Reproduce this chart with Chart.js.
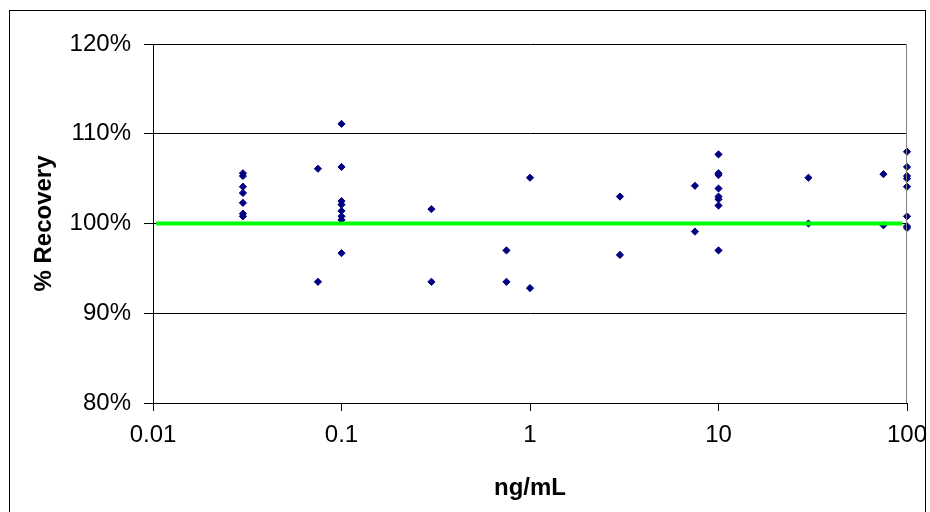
<!DOCTYPE html>
<html>
<head>
<meta charset="utf-8">
<title>% Recovery vs concentration</title>
<script src="https://cdn.jsdelivr.net/npm/chart.js@4/dist/chart.umd.min.js"></script>
<style>
    body { margin: 0; background: #fff; }
    canvas { display: block; }
</style>
</head>
<body>
<canvas id="chart" width="930" height="512"></canvas>
<script>
// Spiked concentrations (ng/mL) and measured recovery (%)
const concentrations = [
    0.03, 0.03, 0.03, 0.03, 0.03, 0.03, 0.03,
    0.075, 0.075,
    0.1, 0.1, 0.1, 0.1, 0.1, 0.1, 0.1, 0.1,
    0.3, 0.3,
    0.75, 0.75,
    1, 1,
    3, 3,
    7.5, 7.5,
    10, 10, 10, 10, 10, 10, 10, 10,
    30, 30,
    75, 75,
    100, 100, 100, 100, 100, 100, 100, 100
];
const recovery = [
    105.6, 105.3, 104.1, 103.4, 102.3, 101.1, 100.8,
    106.1, 93.5,
    111.1, 106.3, 102.5, 102.1, 101.4, 100.8, 100.4, 96.7,
    101.6, 93.5,
    97.0, 93.5,
    105.1, 92.8,
    103.0, 96.5,
    104.2, 99.1,
    107.7, 105.6, 105.4, 103.9, 103.0, 102.7, 102.0, 97.0,
    105.1, 100.0,
    105.5, 99.8,
    108.0, 106.3, 105.3, 105.0, 104.1, 100.8, 99.7, 99.5
];

// 100% reference line
const targetX = [0.0104, 94.5];
const targetY = [100, 100];

// Axis ticks
const xTicks = [0.01, 0.1, 1, 10, 100];
const yMin = 80;
const yMax = 120;
const yStep = 10;

const points = concentrations.map((c, i) => ({ x: c, y: recovery[i] }));
const targetLine = targetX.map((x, i) => ({ x: x, y: targetY[i] }));

// White background, outer frame and plot area right edge
const framePlugin = {
    id: 'frame',
    beforeDraw(chart) {
        const ctx = chart.ctx;
        ctx.save();
        ctx.fillStyle = '#fff';
        ctx.fillRect(0, 0, chart.width, chart.height);
        ctx.restore();
    },
    afterDraw(chart) {
        const ctx = chart.ctx;
        const area = chart.chartArea;
        ctx.save();
        ctx.strokeStyle = '#000';
        ctx.lineWidth = 1;
        ctx.strokeRect(9.5, 10.5, 916, 540);
        ctx.strokeStyle = '#808080';
        ctx.beginPath();
        ctx.moveTo(Math.round(area.right) - 0.5, area.top);
        ctx.lineTo(Math.round(area.right) - 0.5, area.bottom);
        ctx.stroke();
        ctx.restore();
    }
};

Chart.defaults.font.family = '"Liberation Sans", Arial, sans-serif';
Chart.defaults.color = '#000';

new Chart(document.getElementById('chart').getContext('2d'), {
    type: 'scatter',
    data: {
        datasets: [
            {
                type: 'line',
                data: targetLine,
                borderColor: '#00ff00',
                borderWidth: 4,
                pointRadius: 0,
                fill: false,
                clip: false
            },
            {
                data: points,
                pointStyle: 'rectRot',
                pointRadius: 3.6,
                pointBorderWidth: 1,
                backgroundColor: '#000080',
                borderColor: '#000080',
                clip: false
            }
        ]
    },
    options: {
        responsive: false,
        animation: false,
        layout: {
            padding: { left: 0, top: 44, right: 23, bottom: 0 }
        },
        plugins: {
            legend: { display: false },
            tooltip: { enabled: false }
        },
        scales: {
            x: {
                type: 'logarithmic',
                min: xTicks[0],
                max: xTicks[xTicks.length - 1],
                afterBuildTicks: scale => {
                    scale.ticks = xTicks.map(v => ({ value: v }));
                },
                afterFit: scale => {
                    scale.height = 109;
                    // keep the end labels from pushing the plot area inwards
                    scale.paddingLeft = 0;
                    scale.paddingRight = 0;
                },
                grid: {
                    drawOnChartArea: false,
                    color: '#000',
                    tickLength: 8
                },
                border: { color: '#000', width: 1 },
                ticks: {
                    autoSkip: false,
                    maxRotation: 0,
                    padding: 10,
                    font: { size: 24 },
                    callback: value => String(value)
                },
                title: {
                    display: true,
                    text: 'ng/mL',
                    font: { size: 24, weight: 'bold' },
                    padding: { top: 0, bottom: 9 }
                }
            },
            y: {
                min: yMin,
                max: yMax,
                afterFit: scale => {
                    scale.width = 153;
                    scale.paddingTop = 0;
                    scale.paddingBottom = 0;
                },
                grid: {
                    color: '#000',
                    tickLength: 9
                },
                border: { color: '#000', width: 1 },
                ticks: {
                    stepSize: yStep,
                    padding: 13,
                    font: { size: 24 },
                    callback: value => value + '%'
                },
                title: {
                    display: true,
                    text: '% Recovery',
                    font: { size: 24, weight: 'bold' },
                    padding: { top: 30, bottom: 0 }
                }
            }
        }
    },
    plugins: [framePlugin]
});
</script>
</body>
</html>
